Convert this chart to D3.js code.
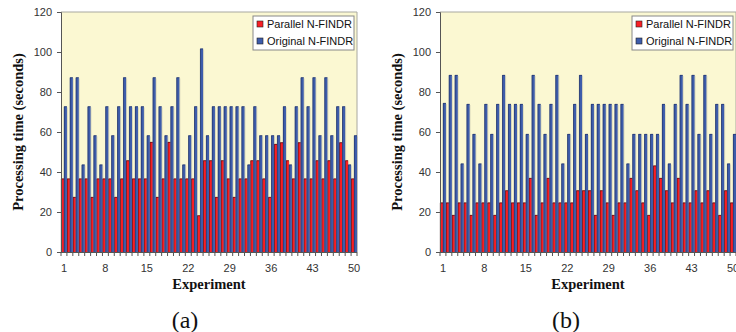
<!DOCTYPE html>
<html><head><meta charset="utf-8">
<script src="https://cdn.jsdelivr.net/npm/d3@7"></script>
<style>html,body{margin:0;padding:0;background:#fff;}svg{display:block;}</style>
</head><body>
<script>
const experiments = [1,2,3,4,5,6,7,8,9,10,11,12,13,14,15,16,17,18,19,20,21,22,23,24,25,26,27,28,29,30,31,32,33,34,35,36,37,38,39,40,41,42,43,44,45,46,47,48,49,50];
const xTickLabels = [1,8,15,22,29,36,43,50];
const yTickValues = [0,20,40,60,80,100,120];
const seriesNames = ["Parallel N-FINDR","Original N-FINDR"];

const parallelA = [36.7,36.7,27.5,36.7,36.7,27.5,36.7,36.7,36.7,27.5,36.7,45.8,36.7,36.7,36.7,55,27.5,36.7,55,36.7,36.7,36.7,36.7,18.3,45.8,45.8,27.5,45.8,36.7,27.5,36.7,36.7,45.8,45.8,36.7,27.5,54,54.8,45.8,36.7,54.8,36.7,36.7,45.8,36.7,45.8,36.7,54.8,45.8,36.7];
const originalA = [72.8,87.3,87.3,43.7,72.8,58.3,43.7,72.8,58.3,72.8,87.3,72.8,72.8,72.8,58.3,87.3,72.8,58.3,72.8,87.3,43.7,58.3,72.8,101.7,58.3,72.8,72.8,72.8,72.8,72.8,72.8,43.7,72.8,58.3,58.3,58.3,58.3,72.8,43.7,72.8,87.3,72.8,87.3,58.3,87.3,58.3,72.8,72.8,43.7,58.3];

const parallelB = [24.7,24.7,18.5,24.7,24.7,18.5,24.7,24.7,24.7,18.5,24.7,30.8,24.7,24.7,24.7,37,18.5,24.7,37,24.7,24.7,24.7,24.7,30.8,30.8,30.8,18.5,30.8,24.7,18.5,24.7,24.7,37,30.8,24.7,18.5,43.2,37,30.8,24.7,37,24.7,24.7,30.8,24.7,30.8,24.7,18.5,30.8,24.7];
const originalB = [74.5,88.5,88.5,44.2,74,59,44.2,74,59,74,88.5,74,74,74,59,88.5,74,59,74,88.5,44.2,59,74,88.5,59,74,74,74,74,74,74,44.2,59,59,59,59,59,74,44.2,74,88.5,74,88.5,59,88.5,59,74,74,44.2,59];

const colors = ["#f81e24","#3d5cab"];
const edges = ["#2a0808","#1a2858"];

const svg = d3.select("body").append("svg").attr("width",736).attr("height",332);

function panel(ox, par, ori, label) {
  const W = 296, top = 12, bottom = 252;
  const g = svg.append("g").attr("transform",`translate(${ox},0)`);
  const x = d3.scaleBand().domain(experiments).range([0,W]).padding(0);
  const xs = d3.scaleBand().domain([0,1]).range([0,x.bandwidth()]);
  const y = d3.scaleLinear().domain([0,120]).range([bottom,top]);

  g.append("rect").attr("x",0).attr("y",top).attr("width",W).attr("height",bottom-top).attr("fill","#fbf8d2");
  g.append("path").attr("d",`M0,${top}H${W}V${bottom}`).attr("fill","none").attr("stroke","#a8a8a0").attr("stroke-width",1);

  const rows = experiments.map((e,i)=>({e, v:[par[i],ori[i]]}));
  [0,1].forEach(s=>{
    g.selectAll(null).data(rows).enter().append("rect")
      .attr("x",d=>x(d.e)+xs(s)+1).attr("y",d=>y(d.v[s])+1)
      .attr("width",xs.bandwidth()).attr("height",d=>bottom-y(d.v[s])-1)
      .attr("fill","#9a9a90").attr("opacity",0.3);
  });
  [0,1].forEach(s=>{
    g.selectAll(null).data(rows).enter().append("rect")
      .attr("x",d=>x(d.e)+xs(s)).attr("y",d=>y(d.v[s]))
      .attr("width",xs.bandwidth()).attr("height",d=>bottom-y(d.v[s]))
      .attr("fill",colors[s]);
    g.selectAll(null).data(rows).enter().append("path")
      .attr("d",d=>`M${x(d.e)+xs(s)+0.3},${bottom}V${y(d.v[s])+0.3}H${x(d.e)+xs(s)+xs.bandwidth()}`)
      .attr("fill","none").attr("stroke",edges[s]).attr("stroke-width",0.6);
  });

  const ya = g.append("g").call(d3.axisLeft(y).tickValues(yTickValues).tickSize(4).tickPadding(5));
  ya.select(".domain").attr("stroke","#555");
  ya.selectAll(".tick line").attr("stroke","#555");
  ya.selectAll("text").attr("font-family","Arial, 'Liberation Sans', sans-serif").attr("font-size",11).attr("fill","#333");

  g.append("line").attr("x1",0).attr("x2",W).attr("y1",bottom+0.5).attr("y2",bottom+0.5).attr("stroke","#555");
  g.selectAll(null).data(experiments.concat([null])).enter().append("line")
    .attr("x1",(d,i)=> i < experiments.length ? x(d) : W).attr("x2",(d,i)=> i < experiments.length ? x(d) : W)
    .attr("y1",bottom).attr("y2",bottom+4).attr("stroke","#555");
  const xa = g.append("g").attr("transform",`translate(0,${bottom})`)
    .call(d3.axisBottom(x).tickValues(xTickLabels).tickSize(0).tickPadding(12));
  xa.select(".domain").remove();
  xa.selectAll("text").attr("font-family","Arial, 'Liberation Sans', sans-serif").attr("font-size",11).attr("fill","#333");

  g.append("text").attr("transform",`translate(${-38},${(top+bottom)/2}) rotate(-90)`)
    .attr("text-anchor","middle").attr("font-family","'Liberation Serif','Times New Roman',serif")
    .attr("font-weight","bold").attr("font-size",14.5).attr("fill","#111").text("Processing time (seconds)");
  g.append("text").attr("x",W/2).attr("y",289).attr("text-anchor","middle")
    .attr("font-family","'Liberation Serif','Times New Roman',serif").attr("font-weight","bold")
    .attr("font-size",14.5).attr("fill","#111").text("Experiment");
  g.append("text").attr("x",label.x).attr("y",328).attr("text-anchor","middle")
    .attr("font-family","'Liberation Serif','Times New Roman',serif").attr("font-size",24)
    .attr("fill","#111").text(label.t);

  const lg = g.append("g").attr("transform",`translate(${W-104},16)`);
  lg.append("rect").attr("width",101).attr("height",34).attr("fill","#fff").attr("stroke","#888");
  seriesNames.forEach((n,i)=>{
    lg.append("rect").attr("x",4).attr("y",5+i*17).attr("width",6).attr("height",6)
      .attr("fill",colors[i]).attr("stroke","#222").attr("stroke-width",0.6);
    lg.append("text").attr("x",14).attr("y",12+i*17).attr("font-family","Arial, 'Liberation Sans', sans-serif")
      .attr("font-size",11).attr("fill","#111").text(n);
  });
}

panel(61, parallelA, originalA, {x:124, t:"(a)"});
panel(440, parallelB, originalB, {x:126, t:"(b)"});
</script>
</body></html>
